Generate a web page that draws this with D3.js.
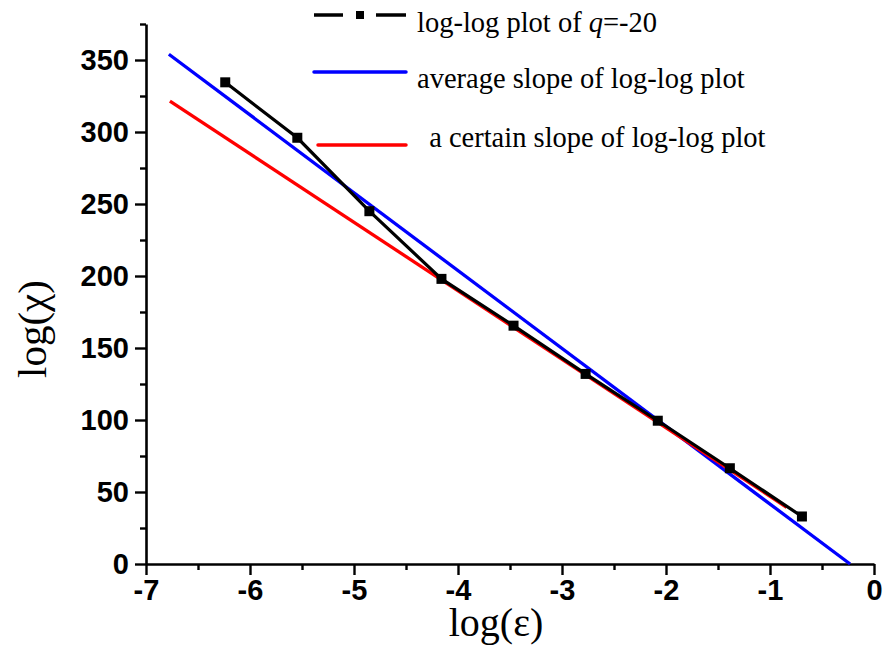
<!DOCTYPE html>
<html>
<head>
<meta charset="utf-8">
<script src="https://cdn.jsdelivr.net/npm/d3@7"></script>
<style>
  html, body { margin: 0; padding: 0; background: #fff; }
  svg { display: block; }
</style>
</head>
<body>
<svg id="chart" width="884" height="648"></svg>
<script>
// log-log data for q = -20
const logEps = [-6.238, -5.545, -4.852, -4.159, -3.466, -2.773, -2.079, -1.386, -0.693];
const logChi = [334.5, 296, 245, 198, 165.5, 132, 99.5, 66.5, 33];

// fitted lines (end points)
const avgLineX = [-6.78, -0.23];
const avgLineY = [354, 0];
const certainLineX = [-6.77, -0.84];
const certainLineY = [321.5, 39.4];

const xMajorTicks = [-7, -6, -5, -4, -3, -2, -1, 0];
const xMinorTicks = [-6.5, -5.5, -4.5, -3.5, -2.5, -1.5, -0.5];
const yMajorTicks = [0, 50, 100, 150, 200, 250, 300, 350];
const yMinorTicks = [25, 75, 125, 175, 225, 275, 325, 375];

const legendItems = [
  { label: ["log-log plot of ", "q", "=-20"], color: "#000000", marker: true },
  { label: ["average slope of log-log plot"], color: "#0000ff", marker: false },
  { label: [" a certain slope of log-log plot"], color: "#ff0000", marker: false }
];

const svg = d3.select("#chart");
const plotLeft = 146, plotRight = 874, plotTop = 24, plotBottom = 564;

const x = d3.scaleLinear().domain([-7, 0]).range([plotLeft, plotRight]);
const y = d3.scaleLinear().domain([0, 375]).range([plotBottom, plotTop]);

const tickFont = "'Liberation Sans', Arial, sans-serif";
const serif = "'Liberation Serif', 'Times New Roman', serif";

// axes
function styleAxis(g) {
  g.select(".domain").attr("stroke", "#000").attr("stroke-width", 2.6);
  g.selectAll(".tick line").attr("stroke", "#000").attr("stroke-width", 2.4);
  g.selectAll(".tick text")
    .attr("font-family", tickFont).attr("font-weight", "bold")
    .attr("font-size", 29).attr("fill", "#000");
}

const xMinor = svg.append("g").attr("transform", `translate(0,${plotBottom})`)
  .call(d3.axisBottom(x).tickValues(xMinorTicks).tickSize(6).tickFormat(""));
xMinor.select(".domain").remove();
xMinor.selectAll(".tick line").attr("stroke", "#000").attr("stroke-width", 2.4);

const yMinor = svg.append("g").attr("transform", `translate(${plotLeft},0)`)
  .call(d3.axisLeft(y).tickValues(yMinorTicks).tickSize(6).tickFormat(""));
yMinor.select(".domain").remove();
yMinor.selectAll(".tick line").attr("stroke", "#000").attr("stroke-width", 2.4);

const xAxis = svg.append("g").attr("transform", `translate(0,${plotBottom})`)
  .call(d3.axisBottom(x).tickValues(xMajorTicks).tickSize(11).tickSizeOuter(0).tickPadding(4)
    .tickFormat(d => d3.format("d")(d).replace("−", "-")));
styleAxis(xAxis);

const yAxis = svg.append("g").attr("transform", `translate(${plotLeft},0)`)
  .call(d3.axisLeft(y).tickValues(yMajorTicks).tickSize(11).tickSizeOuter(0).tickPadding(6));
styleAxis(yAxis);

// axis titles
svg.append("text")
  .attr("x", 496).attr("y", 636)
  .attr("text-anchor", "middle")
  .attr("font-family", serif).attr("font-size", 40)
  .text("log(ε)");

svg.append("text")
  .attr("transform", `translate(46,329) rotate(-90)`)
  .attr("text-anchor", "middle")
  .attr("font-family", serif).attr("font-size", 41)
  .text("log(χ)");

// fitted lines
const line = d3.line().x(d => x(d[0])).y(d => y(d[1]));

svg.append("path")
  .datum(avgLineX.map((v, i) => [v, avgLineY[i]]))
  .attr("d", line).attr("fill", "none")
  .attr("stroke", "#0000ff").attr("stroke-width", 3.3);

svg.append("path")
  .datum(certainLineX.map((v, i) => [v, certainLineY[i]]))
  .attr("d", line).attr("fill", "none")
  .attr("stroke", "#ff0000").attr("stroke-width", 3.3);

// data line + square markers
const pts = logEps.map((v, i) => [v, logChi[i]]);
svg.append("path")
  .datum(pts)
  .attr("d", line).attr("fill", "none")
  .attr("stroke", "#000").attr("stroke-width", 3.2);

svg.selectAll("rect.pt").data(pts).enter().append("rect")
  .attr("class", "pt")
  .attr("x", d => x(d[0]) - 5).attr("y", d => y(d[1]) - 5)
  .attr("width", 10).attr("height", 10).attr("fill", "#000");

// legend
const legY = [15, 72, 145];
const legTextX = [417, 417, 422];
const legTextY = [32, 88, 147];
legendItems.forEach((it, i) => {
  const g = svg.append("g");
  if (it.marker) {
    g.append("line").attr("x1", 314).attr("x2", 343).attr("y1", legY[i]).attr("y2", legY[i])
      .attr("stroke", it.color).attr("stroke-width", 3.5);
    g.append("line").attr("x1", 376).attr("x2", 406).attr("y1", legY[i]).attr("y2", legY[i])
      .attr("stroke", it.color).attr("stroke-width", 3.5);
    g.append("rect").attr("x", 356).attr("y", legY[i] - 4).attr("width", 8).attr("height", 8)
      .attr("fill", it.color);
  } else {
    const x1 = i === 2 ? 318 : 314;
    g.append("line").attr("x1", x1).attr("x2", 406).attr("y1", legY[i]).attr("y2", legY[i])
      .attr("stroke", it.color).attr("stroke-width", 3.5).attr("stroke-linecap", "round");
  }
  const t = g.append("text").attr("x", legTextX[i]).attr("y", legTextY[i])
    .attr("font-family", serif).attr("font-size", 28.5).attr("fill", "#000")
    .attr("xml:space", "preserve");
  it.label.forEach(part => {
    const ts = t.append("tspan").text(part);
    if (part === "q") ts.attr("font-style", "italic");
  });
});
</script>
</body>
</html>
